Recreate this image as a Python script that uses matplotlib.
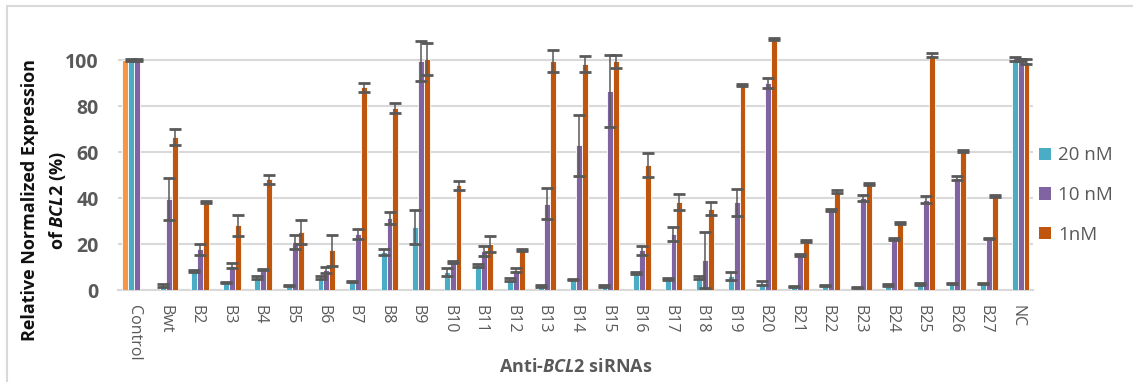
import numpy as np
import matplotlib
matplotlib.use("Agg")
import matplotlib.pyplot as plt
from matplotlib.patches import Rectangle, Patch

plt.rcParams['font.family'] = ['Open Sans', 'DejaVu Sans']
plt.rcParams['mathtext.fontset'] = 'custom'
plt.rcParams['mathtext.rm'] = 'Open Sans:bold'
plt.rcParams['mathtext.it'] = 'Open Sans:italic:bold'
plt.rcParams['mathtext.bf'] = 'Open Sans:bold'

nan = np.nan
categories = ['Control', 'Bwt', 'B2', 'B3', 'B4', 'B5', 'B6', 'B7', 'B8', 'B9', 'B10',
              'B11', 'B12', 'B13', 'B14', 'B15', 'B16', 'B17', 'B18', 'B19', 'B20',
              'B21', 'B22', 'B23', 'B24', 'B25', 'B26', 'B27', 'NC']

control_vals = [100] + [nan] * 28

nM20 = [100, 2.0, 8.3, 3.2, 5.4, 2.0, 5.4, 3.6, 16.5, 27.2, 8.0, 10.7, 4.5, 1.7, 4.6,
        1.7, 7.5, 4.8, 5.5, 6.1, 3.2, 1.6, 1.9, 1.0, 2.2, 2.6, 2.9, 2.8, 100.3]
err20 = [0.3, 0.5, 0.5, 0.3, 0.6, 0.3, 0.8, 0.2, 1.4, 7.4, 1.7, 0.5, 0.6, 0.3, 0.3,
         0.3, 0.5, 0.5, 0.5, 1.7, 0.9, 0.3, 0.3, 0.3, 0.3, 0.3, 0.3, 0.4, 0.8]

nM10 = [100, 39.7, 17.7, 10.6, 8.8, 20.7, 8.6, 24.2, 31.3, 99.6, 12.2, 17.0, 8.6, 37.5, 62.9,
        86.4, 17.2, 24.2, 13.2, 38.1, 90.0, 15.4, 34.8, 40.1, 22.2, 39.3, 48.7, 22.3, 99.9]
err10 = [0.3, 9.2, 2.4, 1.2, 0.3, 3.0, 1.2, 2.2, 2.6, 8.6, 0.3, 2.3, 0.9, 6.7, 13.2,
         15.6, 1.8, 3.0, 12.2, 5.8, 2.2, 0.4, 0.6, 1.4, 0.6, 1.4, 0.8, 0.3, 0.5]

nM1 = [nan, 66.4, 38.3, 28.1, 48.1, 25.2, 17.2, 88.1, 79.1, 100.3, 45.5, 20.1, 17.4, 99.6, 98.4,
       99.4, 54.3, 38.3, 35.4, 89.1, 109.2, 21.3, 42.8, 46.1, 29.1, 102.2, 60.3, 40.9, 99.3]
err1 = [nan, 3.4, 0.5, 4.7, 2.0, 5.4, 6.8, 1.8, 2.0, 7.0, 2.1, 3.4, 0.3, 4.6, 3.5,
        2.8, 5.2, 3.4, 2.9, 0.3, 0.5, 0.3, 0.5, 0.3, 0.3, 1.0, 0.5, 0.3, 1.2]

series = [
    ('Control', control_vals, None, '#F79646'),
    ('20 nM', nM20, err20, '#4BACC6'),
    ('10 nM', nM10, err10, '#8064A2'),
    ('1nM', nM1, err1, '#C0560E'),
]

W, H = 1133, 382
fig = plt.figure(figsize=(W / 100, H / 100), dpi=100)
ax = fig.add_axes([118 / W, 1 - 290 / H, 915 / W, (290 - 25.5) / H])

x = np.arange(len(categories))
bw = 0.187
offsets = [-1.5 * bw, -0.5 * bw, 0.5 * bw, 1.5 * bw]
grey = '#595959'
handles = []
for (name, vals, errs, col), off in zip(series, offsets):
    v = np.array(vals, dtype=float)
    ax.bar(x + off + 0.012, v, width=bw, color=col, edgecolor='white',
           linewidth=0.6, zorder=3)
    if errs is not None:
        ax.errorbar(x + off + 0.012, v, yerr=np.array(errs, dtype=float), fmt='none',
                    ecolor=grey, elinewidth=1.1, capsize=4.2, capthick=2.0, zorder=4)
        handles.append(Patch(facecolor=col, edgecolor='none', label=name))

ax.set_xlim(-0.5, len(categories) - 0.5)
ax.set_ylim(0, 115)
ax.set_yticks([0, 20, 40, 60, 80, 100])
ax.yaxis.grid(True, color='#D9D9D9', linewidth=1.5, zorder=0)
ax.set_axisbelow(True)
for s in ['top', 'right', 'left']:
    ax.spines[s].set_visible(False)
ax.spines['bottom'].set_color('#D9D9D9')
ax.spines['bottom'].set_linewidth(1.5)
ax.tick_params(axis='both', length=0)
ax.tick_params(axis='y', pad=14, labelsize=14, labelcolor=grey)
ax.tick_params(axis='x', pad=11, labelsize=11.5, labelcolor=grey)
for lab in ax.get_yticklabels():
    lab.set_fontweight('bold')
ax.set_xticks(x)
ax.set_xticklabels(categories, rotation=-90, va='top', ha='center')

fig.text(30 / W, 1 - 200 / H, 'Relative Normalized Expression', rotation=90,
         ha='center', va='center', fontsize=13, fontweight='bold', color='#111111')
fig.text(58 / W, 1 - 201 / H, r'of $\mathit{BCL2}$ (%)', rotation=90,
         ha='center', va='center', fontsize=13, fontweight='bold', color='#111111')
fig.text(576 / W, 1 - 367 / H, r'Anti-$\mathit{BCL2}$ siRNAs', ha='center', va='center',
         fontsize=13, fontweight='bold', color=grey)

leg = fig.legend(handles=handles, loc='center left',
                 bbox_to_anchor=(1026 / W, 1 - 195 / H), frameon=False,
                 fontsize=13.5, handlelength=0.65, handleheight=0.65,
                 handletextpad=0.35, labelspacing=1.15, borderpad=0.2)
for t in leg.get_texts():
    t.set_color(grey)

fig.patches.append(Rectangle((7 / W, -0.1), 1.2, 1.1 - 6 / H, transform=fig.transFigure,
                             fill=False, edgecolor='#D9D9D9', linewidth=1.5, zorder=-1))

fig.savefig('out.png', dpi=100)
